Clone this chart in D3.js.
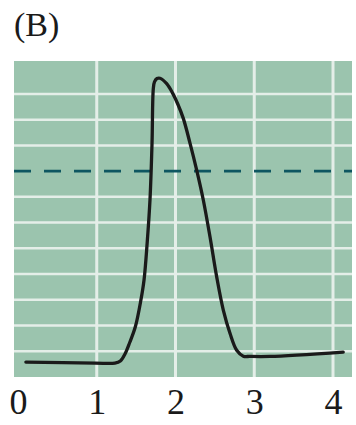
<!DOCTYPE html>
<html>
<head>
<meta charset="utf-8">
<script src="https://cdn.jsdelivr.net/npm/d3@7"></script>
<style>
  html, body { margin: 0; padding: 0; background: #ffffff; }
  svg { display: block; }
</style>
</head>
<body>
<svg id="chart" width="356" height="425"></svg>
<script>
// Membrane potential trace (grid units) against time
const panelLabel = "(B)";
const time = [0.10, 0.98, 1.23, 1.30, 1.36, 1.42, 1.49, 1.56, 1.60, 1.64, 1.676, 1.702, 1.718,
              1.733, 1.765, 1.803, 1.888, 1.96, 2.03, 2.099, 2.184, 2.269, 2.353, 2.438, 2.523,
              2.607, 2.692, 2.777, 2.861, 2.946, 3.20, 4.13];
const potential = [0.58, 0.54, 0.54, 0.62, 0.90, 1.35, 1.95, 2.98, 3.76, 5.20, 6.88, 9.10, 11.20,
                   11.47, 11.60, 11.61, 11.40, 11.05, 10.60, 10.05, 9.09, 8.04, 6.88, 5.45, 3.89,
                   2.60, 1.70, 1.04, 0.81, 0.80, 0.80, 0.97];
const xTickValues = [0, 1, 2, 3, 4];
const xTickLabels = ["0", "1", "2", "3", "4"];
const verticalGrid = [1, 2, 3, 4];
const horizontalGrid = [1, 2, 3, 4, 5, 6, 7, 9, 10, 11];
const threshold = 8;

const svg = d3.select("#chart");
const plot = { left: 14, right: 352, top: 61, bottom: 377 };

const x = d3.scaleLinear().domain([0, 4]).range([18, 333]);
const y = d3.scaleLinear().domain([0, 12.28]).range([plot.bottom, plot.top]);

// Panel background
svg.append("rect")
  .attr("x", plot.left).attr("y", plot.top)
  .attr("width", plot.right - plot.left).attr("height", plot.bottom - plot.top)
  .attr("fill", "#9bc4ae");

// Grid
const grid = svg.append("g").attr("stroke", "#e4eee8");
grid.selectAll("line.h").data(horizontalGrid).join("line")
  .attr("class", "h")
  .attr("x1", plot.left).attr("x2", plot.right)
  .attr("y1", d => y(d)).attr("y2", d => y(d))
  .attr("stroke-width", 2.5);
grid.selectAll("line.v").data(verticalGrid).join("line")
  .attr("class", "v")
  .attr("x1", d => x(d)).attr("x2", d => x(d))
  .attr("y1", plot.top).attr("y2", plot.bottom)
  .attr("stroke-width", 3);

// Threshold
svg.append("line")
  .attr("x1", plot.left).attr("x2", plot.right)
  .attr("y1", y(threshold)).attr("y2", y(threshold))
  .attr("stroke", "#0e5661").attr("stroke-width", 2.6)
  .attr("stroke-dasharray", "17,13");

// Trace
const line = d3.line()
  .x((d, i) => x(time[i]))
  .y(d => y(d))
  .curve(d3.curveCatmullRom.alpha(0.5));
svg.append("path")
  .datum(potential)
  .attr("d", line)
  .attr("fill", "none")
  .attr("stroke", "#1a1a1a")
  .attr("stroke-width", 3.3)
  .attr("stroke-linecap", "round")
  .attr("stroke-linejoin", "round");

// X axis labels
const xAxis = d3.axisBottom(x)
  .tickValues(xTickValues)
  .tickFormat((d, i) => xTickLabels[i])
  .tickSize(0)
  .tickPadding(0);
const axisG = svg.append("g").attr("transform", "translate(0,388)").call(xAxis);
axisG.select(".domain").remove();
axisG.selectAll("text")
  .attr("dy", "0.71em")
  .attr("fill", "#1a1a1a")
  .style("font-family", "'Liberation Serif', 'DejaVu Serif', serif")
  .style("font-size", "36px");

// Panel label
svg.append("text")
  .attr("x", 14).attr("y", 36)
  .attr("fill", "#1a1a1a")
  .style("font-family", "'Liberation Serif', 'DejaVu Serif', serif")
  .style("font-size", "34px")
  .text(panelLabel);
</script>
</body>
</html>
